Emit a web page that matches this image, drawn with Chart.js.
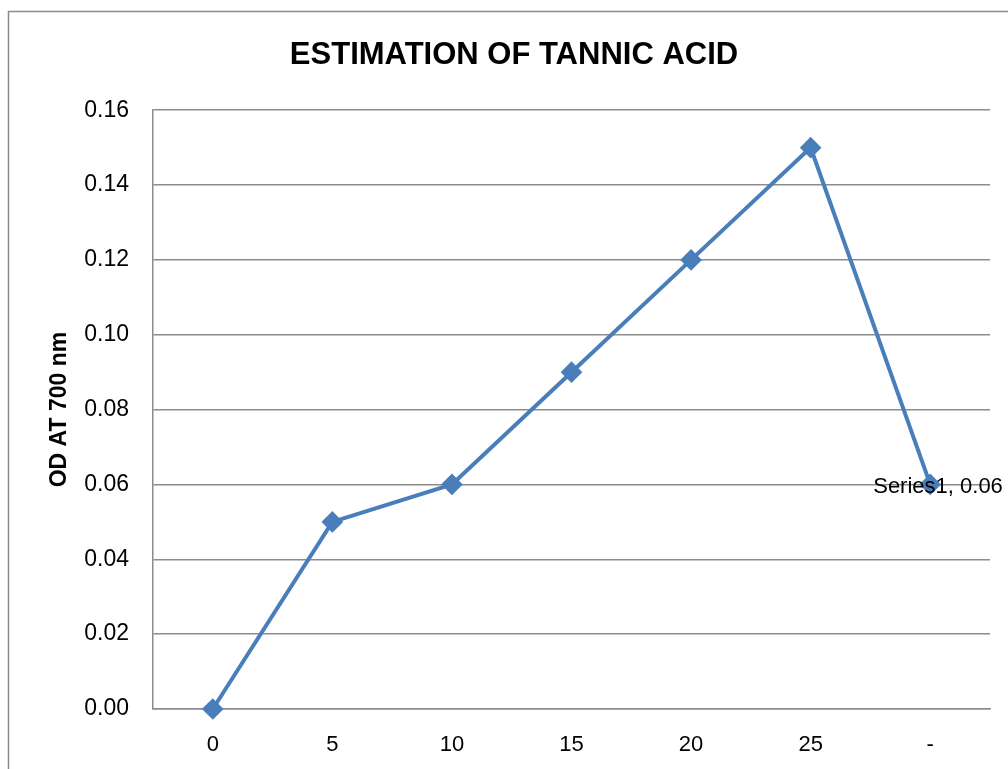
<!DOCTYPE html>
<html>
<head>
<meta charset="utf-8">
<script src="https://cdn.jsdelivr.net/npm/chart.js@4"></script>
<style>
  html, body { margin: 0; padding: 0; background: #fff; }
  #wrap { width: 1008px; height: 769px; }
</style>
</head>
<body>
<div id="wrap"><canvas id="grafico" width="1008" height="769"></canvas></div>
<script>
// datos
const categorias = ["0", "5", "10", "15", "20", "25", "-"];
const valores = [0, 0.05, 0.06, 0.09, 0.12, 0.15, 0.06];
const nombreSerie = "Series1";
const titulo = "ESTIMATION OF TANNIC ACID";
const tituloY = "OD AT 700 nm";

const fuente = "'Liberation Sans', Arial, sans-serif";
const azul = "#4a7ebb";
const gris = "#8c8c8c";

// marco exterior del grafico
const marco = {
  id: "marco",
  beforeDraw(chart) {
    const c = chart.ctx;
    c.save();
    c.fillStyle = "#fff";
    c.fillRect(0, 0, chart.width, chart.height);
    c.strokeStyle = gris;
    c.lineWidth = 1.5;
    c.strokeRect(8.5, 11.5, 1100, 900);
    c.restore();
  }
};

// etiqueta del ultimo punto
const etiqueta = {
  id: "etiqueta",
  afterDatasetsDraw(chart) {
    const meta = chart.getDatasetMeta(0);
    const i = valores.length - 1;
    const p = meta.data[i];
    const c = chart.ctx;
    c.save();
    c.font = "22px " + fuente;
    c.fillStyle = "#000";
    c.textAlign = "left";
    c.textBaseline = "middle";
    c.fillText(nombreSerie + ", " + valores[i].toFixed(2), p.x - 57, p.y + 2);
    c.restore();
  }
};

const ctx = document.getElementById("grafico").getContext("2d");
new Chart(ctx, {
  type: "line",
  data: {
    labels: categorias,
    datasets: [{
      label: nombreSerie,
      data: valores,
      borderColor: azul,
      backgroundColor: azul,
      borderWidth: 4,
      pointStyle: "rectRot",
      pointRadius: 8,
      pointHoverRadius: 8,
      tension: 0,
      clip: false,
      fill: false
    }]
  },
  options: {
    responsive: false,
    animation: false,
    layout: { padding: { left: 38, right: 18, top: 0, bottom: 0 } },
    plugins: {
      legend: { display: false },
      tooltip: { enabled: false },
      title: {
        display: true,
        text: titulo,
        color: "#000",
        font: { family: fuente, size: 31, weight: "bold" },
        padding: { top: 37, bottom: 36 }
      }
    },
    scales: {
      x: {
        offset: true,
        grid: { display: false, drawTicks: false },
        border: { display: true, color: gris, width: 1.5 },
        ticks: { color: "#000", font: { family: fuente, size: 22 }, padding: 23, maxRotation: 0 },
        afterFit(scale) { scale.height = 60; }
      },
      y: {
        min: 0,
        max: 0.16,
        ticks: {
          stepSize: 0.02,
          color: "#000",
          font: { family: fuente, size: 23 },
          padding: 24,
          callback: v => v.toFixed(2)
        },
        grid: { color: gris, lineWidth: 1.5, drawTicks: false },
        border: { display: true, color: gris, width: 1.5 },
        title: {
          display: true,
          text: tituloY,
          color: "#000",
          font: { family: fuente, size: 23, weight: "bold" },
          padding: { top: 8, bottom: 0 }
        },
        afterFit(scale) { scale.width = 115; }
      }
    }
  },
  plugins: [marco, etiqueta]
});
</script>
</body>
</html>
